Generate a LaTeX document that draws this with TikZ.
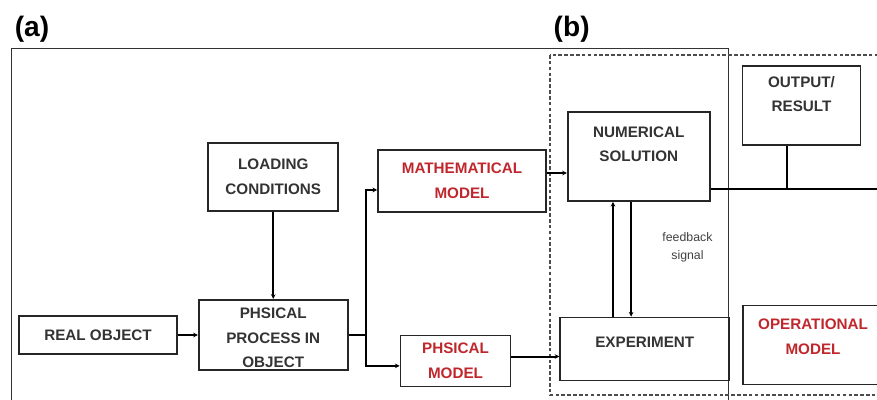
\documentclass[tikz,border=0pt]{standalone}
\usepackage{fontspec}
\setmainfont{Liberation Sans}
\usetikzlibrary{arrows.meta}
\usetikzlibrary{positioning}
\definecolor{modelred}{RGB}{192,39,45}

\tikzset{
  box/.style={draw=black!85, line width=1.5pt, align=center, inner sep=2pt,
    font=\bfseries\fontsize{13}{21}\selectfont, text=black!80},
  model/.style={box, text=modelred},
  conn/.style={line width=1.7pt, -{Stealth[length=4pt,width=4pt]}},
  link/.style={line width=1.7pt},
  panel/.style={font=\bfseries\fontsize{24}{28}\selectfont},
  fbtext/.style={align=center, font=\fontsize{10.5}{15.5}\selectfont, text=black!75}
}

\begin{document}
\begin{tikzpicture}
\clip (0,0) rectangle (26.31,-11.97);

% frames of the two parts
\draw[line width=0.8pt, black!80] (0.33,-12.2) -- (0.33,-1.44) -- (21.84,-1.44) -- (21.84,-12.2);
\draw[line width=0.9pt, black!70, dash pattern=on 3pt off 2pt] (16.5,-1.65) rectangle (26.6,-11.85);
\node[panel] (pa) at (0.96,-0.87) {(a)};
\node[panel] (pb) at (17.15,-0.87) {(b)};

\node[box, minimum width=4.74cm, minimum height=1.14cm] (real) at (2.94,-10.05) {REAL OBJECT};
\node[box, minimum width=4.47cm, minimum height=2.07cm, text height=56pt] (proc) [right=0.6cm of real] {PHSICAL\\PROCESS IN\\OBJECT};
\node[box, minimum width=3.9cm, minimum height=2.04cm] (load) [above=2.61cm of proc] {LOADING\\CONDITIONS};
\node[model, minimum width=5.04cm, minimum height=1.86cm] (math) [right=1.14cm of load, yshift=-0.12cm] {MATHEMATICAL\\MODEL};
\node[model, minimum width=3.3cm, minimum height=1.53cm] (pm) [right=1.53cm of proc, yshift=-0.78cm] {PHSICAL\\MODEL};
\node[box, minimum width=4.26cm, minimum height=2.67cm, text depth=21pt] (num) [right=0.6cm of math, yshift=0.735cm] {NUMERICAL\\SOLUTION};
\node[box, minimum width=5.07cm, minimum height=1.89cm, text depth=11pt] (exp) [right=1.44cm of pm, yshift=0.36cm] {EXPERIMENT};
\node[box, minimum width=3.54cm, minimum height=2.37cm, text depth=20pt] (out) [right=0.93cm of num, yshift=1.53cm] {OUTPUT/\\RESULT};
\node[model, minimum width=4.2cm, minimum height=2.37cm, text depth=14.5pt] (op) [right=0.36cm of exp, yshift=0.12cm] {OPERATIONAL\\MODEL};
\node[fbtext] (fb) at ([xshift=1.46cm,yshift=-1.35cm]num.south) {feedback\\signal};

\coordinate (split) at ([xshift=0.51cm]proc.east);
\coordinate (bus) at ([yshift=-0.975cm]num.east);
\coordinate (edge) at (26.5,0);

\draw[conn] (real) -- (proc);
\draw[conn] (load) -- (proc);
\draw[link] (proc.east) -- (split);
\draw[conn] (split) |- (math.186);
\draw[conn] (split) |- (pm.185);
\draw[conn] ([yshift=0.24cm]math.east) -- ([yshift=0.24cm]math.east -| num.west);
\draw[conn] ([yshift=0.135cm]pm.east) -- ([yshift=0.135cm]pm.east -| exp.west);
\draw[conn] ([xshift=-0.955cm]exp.north) -- ([xshift=-0.955cm]exp.north |- num.south);
\draw[conn] ([xshift=-0.41cm]exp.north |- num.south) -- ([xshift=-0.41cm]exp.north);
\draw[line width=1.3pt] (bus) -- (bus -| edge);
\draw[link] ([xshift=-0.45cm]out.south) -- ([xshift=-0.45cm]out.south |- bus);
\end{tikzpicture}
\end{document}
